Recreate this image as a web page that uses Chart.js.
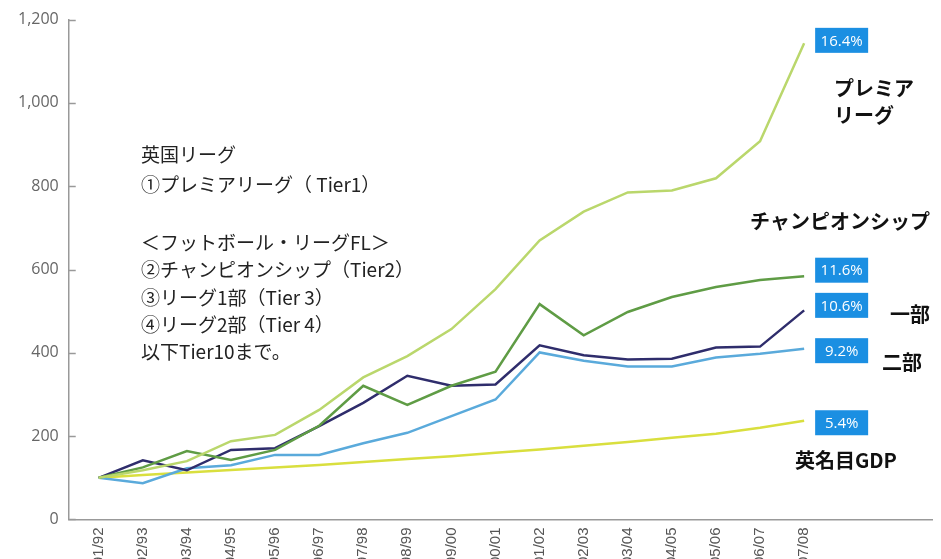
<!DOCTYPE html>
<html>
<head>
<meta charset="utf-8">
<script src="https://cdn.jsdelivr.net/npm/chart.js@4/dist/chart.umd.min.js"></script>
<style>
  html, body { margin: 0; padding: 0; background: #fff; overflow: hidden; }
  #wrap { position: relative; width: 941px; height: 573px; }
</style>
</head>
<body>
<div id="wrap"><canvas id="chart" width="941" height="573"></canvas></div>
<script>
// ---- データ ----
const seasons = ['91/92', '92/93', '93/94', '94/95', '95/96', '96/97', '97/98', '98/99', '99/00',
                 '00/01', '01/02', '02/03', '03/04', '04/05', '05/06', '06/07', '07/08'];
const premier      = [100, 118, 140, 188, 203, 263, 341, 392, 457, 553, 670, 739, 785, 790, 819, 908, 1143];
const championship = [100, 125, 164, 143, 167, 225, 321, 275, 321, 355, 517, 442, 498, 534, 558, 575, 584];
const league1      = [100, 142, 118, 167, 171, 224, 280, 345, 321, 324, 418, 394, 384, 386, 413, 415, 502];
const league2      = [100, 87, 123, 130, 155, 155, 183, 208, 248, 288, 401, 381, 367, 367, 389, 398, 410];
const ukGdp        = [100, 107, 113, 119, 125, 131, 138, 145, 152, 160, 168, 177, 186, 196, 206, 220, 237];
const growthRates  = ['16.4%', '11.6%', '10.6%', '9.2%', '5.4%'];
const yTicks = [0, 200, 400, 600, 800, 1000, 1200];

const toPoints = arr => arr.map((v, i) => ({ x: i, y: v }));

// 右端の%ボックス・注記・内向き目盛り
const overlay = {
  id: 'overlay',
  afterDatasetsDraw(chart) {
    const { ctx, scales: { x, y } } = chart;
    ctx.save();

    // y軸の目盛り（内側）
    ctx.strokeStyle = '#999';
    ctx.lineWidth = 1.5;
    yTicks.forEach(t => {
      const py = Math.round(y.getPixelForValue(t)) + 0.5;
      ctx.beginPath();
      ctx.moveTo(x.left, py);
      ctx.lineTo(x.left + 7, py);
      ctx.stroke();
    });

    // 成長率ボックス
    const shift = [-3, -6, -5, 2, 2];
    ctx.font = '15px "Open Sans", sans-serif';
    ctx.textAlign = 'center';
    ctx.textBaseline = 'middle';
    growthRates.forEach((txt, i) => {
      const pts = chart.getDatasetMeta(i).data;
      const p = pts[pts.length - 1];
      const bx = p.x + 11, by = p.y + shift[i];
      ctx.fillStyle = '#1b8fe2';
      ctx.fillRect(bx, by - 12.5, 53, 25);
      ctx.fillStyle = '#fff';
      ctx.fillText(txt, bx + 26.5, by + 1);
    });

    // 系列名（太字）
    ctx.fillStyle = '#111';
    ctx.textAlign = 'left';
    ctx.font = 'bold 20px "Noto Sans CJK JP", sans-serif';
    ctx.fillText('プレミア', 834, 88);
    ctx.fillText('リーグ', 834, 115);
    ctx.fillText('チャンピオンシップ', 750, 221);
    ctx.fillText('一部', 890, 314);
    ctx.fillText('二部', 882, 362);
    ctx.fillText('英名目GDP', 795, 460);

    // 左の説明文
    ctx.font = '19px "Noto Sans CJK JP", sans-serif';
    ctx.fillStyle = '#222';
    const notes = [
      ['英国リーグ', 155],
      ['①プレミアリーグ（ Tier1）', 185],
      ['＜フットボール・リーグFL＞', 243],
      ['②チャンピオンシップ（Tier2）', 270],
      ['③リーグ1部（Tier 3）', 298],
      ['④リーグ2部（Tier 4）', 325],
      ['以下Tier10まで。', 352],
    ];
    notes.forEach(([t, py]) => ctx.fillText(t, 141, py));

    ctx.restore();
  }
};

const line = (data, color) => ({
  data: toPoints(data),
  borderColor: color,
  borderWidth: 2.5,
  pointRadius: 0,
  tension: 0,
  fill: false,
});

new Chart(document.getElementById('chart'), {
  type: 'line',
  data: {
    datasets: [
      line(premier, '#bad76c'),
      line(championship, '#5f9c45'),
      line(league1, '#2f2d6c'),
      line(league2, '#5aaadb'),
      line(ukGdp, '#d9df3e'),
    ],
  },
  options: {
    responsive: false,
    animation: false,
    layout: { padding: { left: 8, right: 9, top: 12, bottom: 0 } },
    plugins: { legend: { display: false }, tooltip: { enabled: false } },
    scales: {
      x: {
        type: 'linear',
        min: -0.68,
        max: 18.9,
        afterBuildTicks: ax => { ax.ticks = seasons.map((s, i) => ({ value: i })); },
        ticks: {
          callback: v => seasons[v],
          autoSkip: false,
          minRotation: 90,
          maxRotation: 90,
          padding: 8,
          color: '#555',
          font: { size: 15, family: '"Liberation Sans", Arial, sans-serif' },
        },
        grid: { display: false, drawTicks: false },
        border: { color: '#999', width: 1.5 },
      },
      y: {
        min: 0,
        max: 1200,
        afterBuildTicks: ax => { ax.ticks = yTicks.map(v => ({ value: v })); },
        ticks: {
          callback: v => v.toLocaleString('en-US'),
          padding: 10,
          color: '#666',
          font: { size: 16, family: '"Open Sans", sans-serif' },
        },
        grid: { display: false, drawTicks: false },
        border: { color: '#999', width: 1.5 },
      },
    },
  },
  plugins: [overlay],
});
</script>
</body>
</html>
